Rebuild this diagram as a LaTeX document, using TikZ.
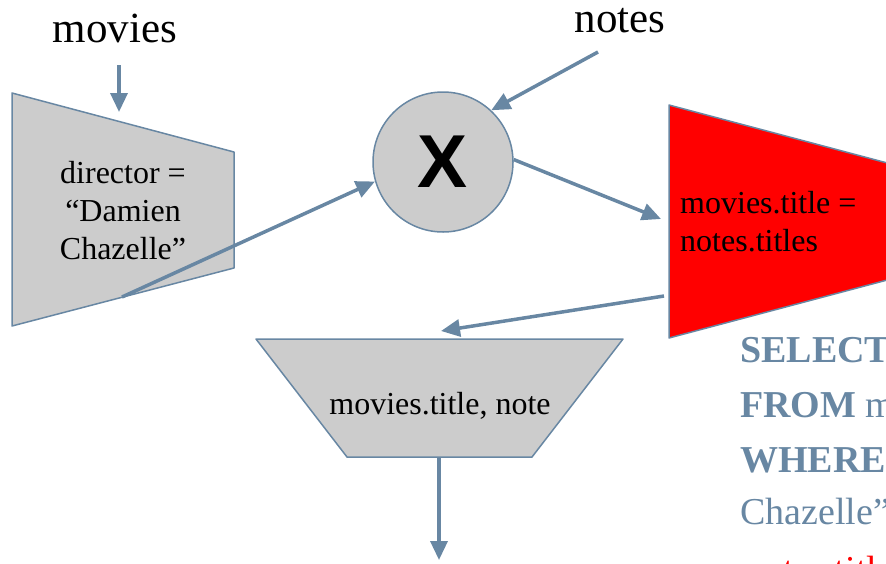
\documentclass[tikz,border=0pt]{standalone}
\usepackage{fontspec}
\setmainfont{Liberation Serif}
\newfontfamily\xfont{Liberation Sans}
\usetikzlibrary{arrows.meta}

\definecolor{slate}{RGB}{104,135,163}
\definecolor{opgray}{RGB}{204,204,204}

\tikzset{
  flow/.style={draw=slate, line width=3.5pt, -{Triangle[length=19pt,width=17pt]}},
  op/.style={fill=opgray, draw=slate, line width=1.5pt, line join=round},
  relname/.style={font=\fontsize{43}{48}\selectfont, anchor=base, inner sep=0pt},
  optext/.style={font=\fontsize{32}{38}\selectfont, inner sep=0pt},
  sqltext/.style={font=\fontsize{38}{55}\selectfont, text=slate, anchor=base west, inner sep=0pt},
}

\begin{document}
\begin{tikzpicture}[x=1pt,y=-1pt]
  \useasboundingbox (0,0) rectangle (886,563);
  \clip (0,0) rectangle (886,563);

  % input relations
  \node[relname] (movies) at (115,42) {movies};
  \node[relname] (notes) at (620,32) {notes};
  \coordinate (moviesin) at (119,65);
  \coordinate (notesin) at (598,52);

  % selection on movies
  \filldraw[op] (12,93) -- (234,152) -- (234,268) -- (12,326) -- cycle;
  \coordinate (seltop) at (119,112);
  \coordinate (selout) at (122,297);
  \node[optext, align=center] (sel) at (123,211)
    {director =\\``Damien\\Chazelle''};

  % the join
  \node[op, circle, minimum size=140pt, inner sep=0pt] (join) at (443,162)
    {\xfont\bfseries\fontsize{75}{75}\selectfont X};

  % join condition
  \filldraw[op, fill=red] (669,105) -- (891,164) -- (891,279) -- (669,338) -- cycle;
  \coordinate (condin) at (661,219);
  \coordinate (condout) at (664,296);
  \node[optext, align=left, anchor=west] (cond) at (680,222)
    {movies.title =\\notes.titles};

  % projection
  \filldraw[op] (256,339) -- (623,339) -- (532,457) -- (347,457) -- cycle;
  \coordinate (projin) at (441,331);
  \coordinate (projout) at (439,457);
  \coordinate (result) at (439,560);
  \node[optext] (proj) at (440,406) {movies.title, note};

  % edges
  \draw[flow] (moviesin) -- (seltop);
  \draw[flow] (notesin) -- (join.47);
  \draw[flow] (selout) -- (join.196);
  \draw[flow] (join.2) -- (condin);
  \draw[flow] (condout) -- (projin);
  \draw[flow] (projout) -- (result);

  % query text
  \node[sqltext] (q1) at (740,362) {\textbf{SELECT}};
  \node[sqltext] (q2) at (740,417) {\textbf{FROM} movies};
  \node[sqltext] (q3) at (740,472) {\textbf{WHERE}};
  \node[sqltext] (q4) at (740,524) {Chazelle''};
  \node[sqltext, text=red] (q5) at (745,582) {notes.title};
\end{tikzpicture}
\end{document}
